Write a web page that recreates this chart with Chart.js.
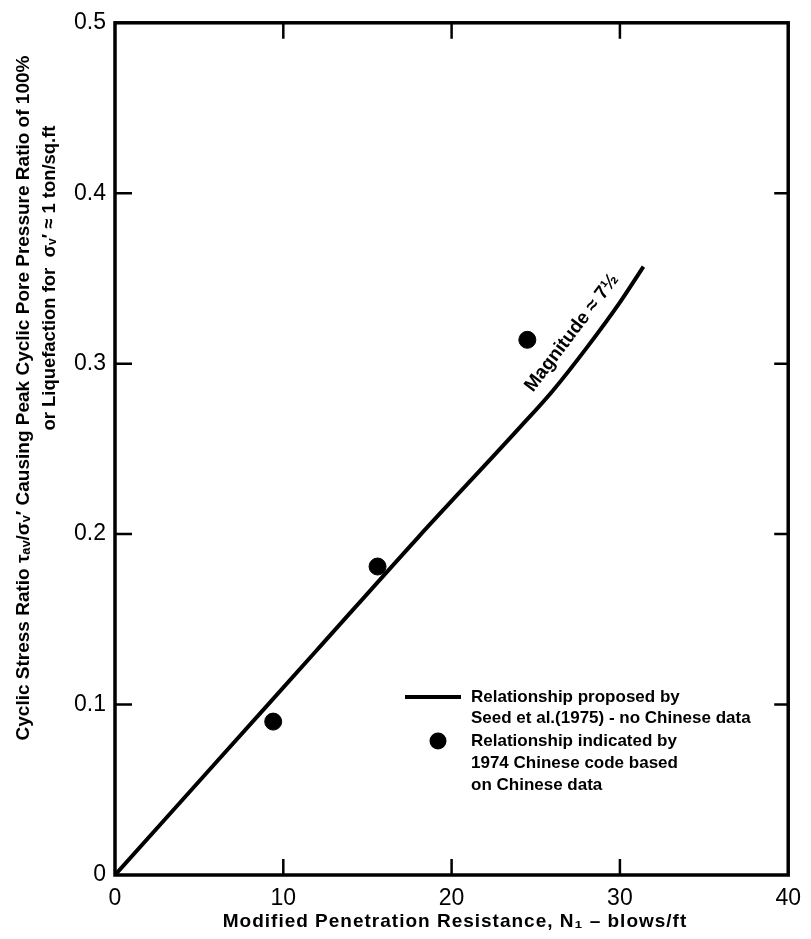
<!DOCTYPE html>
<html>
<head>
<meta charset="utf-8">
<script src="https://cdn.jsdelivr.net/npm/chart.js@4.4.1/dist/chart.umd.min.js"></script>
<style>
  html, body { margin: 0; padding: 0; background: #fff; }
  #wrap { width: 811px; height: 939px; position: relative; }
</style>
</head>
<body>
<div id="wrap"><canvas id="chart"></canvas></div>
<script>
// Seed et al. (1975) curve, M = 7 1/2
const curveN = [0, 6, 12, 18, 24, 26, 28, 30, 31.4];
const curveCSR = [0, 0.066, 0.132, 0.198, 0.262, 0.284, 0.309, 0.336, 0.357];
// 1974 Chinese code points
const chineseN = [9.4, 15.6, 24.5];
const chineseCSR = [0.09, 0.181, 0.314];

const xTicks = [0, 10, 20, 30, 40];
const yTicks = [0, 0.1, 0.2, 0.3, 0.4, 0.5];
const yTickLabels = ["0", "0.1", "0.2", "0.3", "0.4", "0.5"];

const xTitle = "Modified Penetration Resistance, N\u2081 \u2013 blows/ft";
const yTitle1 = "Cyclic Stress Ratio \u03c4\u2090\u1d65/\u03c3\u1d65\u2032 Causing Peak Cyclic Pore Pressure Ratio of 100%";
const yTitle2 = "or Liquefaction for  \u03c3\u1d65\u2032 \u2248 1 ton/sq.ft";
const curveLabel = "Magnitude \u2248 7\u00bd";
const legendLine = ["Relationship proposed by", "Seed et al.(1975) - no Chinese data"];
const legendDot = ["Relationship indicated by", "1974 Chinese code based", "on Chinese data"];

const FONT = "'Liberation Sans', Arial, sans-serif";

// frame, inward ticks, titles, legend, curve label
const decorPlugin = {
  id: "decor",
  afterDraw(chart) {
    const ctx = chart.ctx;
    const a = chart.chartArea;
    const xs = chart.scales.x;
    const ys = chart.scales.y;
    ctx.save();
    ctx.strokeStyle = "#000";
    ctx.fillStyle = "#000";

    // frame
    ctx.lineWidth = 3.5;
    ctx.strokeRect(a.left, a.top, a.right - a.left, a.bottom - a.top);

    // inward ticks
    ctx.lineWidth = 2.5;
    xTicks.slice(1, -1).forEach(v => {
      const px = xs.getPixelForValue(v);
      ctx.beginPath();
      ctx.moveTo(px, a.bottom); ctx.lineTo(px, a.bottom - 16);
      ctx.moveTo(px, a.top); ctx.lineTo(px, a.top + 16);
      ctx.stroke();
    });
    yTicks.slice(1, -1).forEach(v => {
      const py = ys.getPixelForValue(v);
      ctx.beginPath();
      ctx.moveTo(a.left, py); ctx.lineTo(a.left + 17, py);
      ctx.moveTo(a.right, py); ctx.lineTo(a.right - 14, py);
      ctx.stroke();
    });

    // x title
    ctx.textAlign = "center";
    ctx.textBaseline = "middle";
    ctx.font = "bold 19px " + FONT;
    ctx.letterSpacing = "1px";
    ctx.fillText(xTitle, 455, 922, 525);
    ctx.letterSpacing = "0px";

    // y title (two rotated lines)
    ctx.save();
    ctx.translate(24, 398);
    ctx.rotate(-Math.PI / 2);
    ctx.font = "bold 19px " + FONT;
    ctx.fillText(yTitle1, 0, 0, 775);
    ctx.restore();
    ctx.save();
    ctx.translate(50, 278);
    ctx.rotate(-Math.PI / 2);
    ctx.font = "bold 19px " + FONT;
    ctx.fillText(yTitle2, 0, 0, 305);
    ctx.restore();

    // label along the curve
    const p1x = xs.getPixelForValue(curveN[5]), p1y = ys.getPixelForValue(curveCSR[5]);
    const p2x = xs.getPixelForValue(curveN[7]), p2y = ys.getPixelForValue(curveCSR[7]);
    const ang = Math.atan2(p2y - p1y, p2x - p1x);
    ctx.save();
    ctx.translate(xs.getPixelForValue(27.15), ys.getPixelForValue(0.318));
    ctx.rotate(ang);
    ctx.font = "bold 19px " + FONT;
    ctx.fillText(curveLabel, 0, 0);
    ctx.restore();

    // legend
    ctx.textAlign = "left";
    ctx.font = "bold 17px " + FONT;
    ctx.lineWidth = 4;
    ctx.beginPath();
    ctx.moveTo(405, 697); ctx.lineTo(461, 697);
    ctx.stroke();
    legendLine.forEach((t, i) => ctx.fillText(t, 471, 697 + i * 21, 322));
    ctx.beginPath();
    ctx.arc(438, 741, 8.5, 0, Math.PI * 2);
    ctx.fill();
    legendDot.forEach((t, i) => ctx.fillText(t, 471, 741 + i * 22));

    ctx.restore();
  }
};

const ctx = document.getElementById("chart").getContext("2d");
new Chart(ctx, {
  type: "scatter",
  data: {
    datasets: [
      {
        label: "Relationship proposed by Seed et al.(1975)",
        data: curveN.map((n, i) => ({ x: n, y: curveCSR[i] })),
        showLine: true,
        borderColor: "#000",
        borderWidth: 4,
        pointRadius: 0,
        cubicInterpolationMode: "monotone",
      },
      {
        label: "Relationship indicated by 1974 Chinese code",
        data: chineseN.map((n, i) => ({ x: n, y: chineseCSR[i] })),
        backgroundColor: "#000",
        borderColor: "#000",
        pointRadius: 8.5,
        pointHoverRadius: 8.5,
      },
    ],
  },
  options: {
    responsive: true,
    maintainAspectRatio: false,
    animation: false,
    layout: { padding: { top: 17, right: 11, left: 0, bottom: 0 } },
    plugins: {
      legend: { display: false },
      tooltip: { enabled: false },
    },
    scales: {
      x: {
        type: "linear",
        min: 0,
        max: 40,
        afterBuildTicks: s => { s.ticks = xTicks.map(v => ({ value: v })); },
        afterFit: s => { s.height = 64; },
        grid: { display: false, drawTicks: false },
        border: { display: false },
        ticks: {
          color: "#000",
          padding: 10,
          font: { family: FONT, size: 23 },
          maxRotation: 0,
        },
      },
      y: {
        type: "linear",
        min: 0,
        max: 0.5,
        afterBuildTicks: s => { s.ticks = yTicks.map(v => ({ value: v })); },
        afterFit: s => { s.width = 115; },
        grid: { display: false, drawTicks: false },
        border: { display: false },
        ticks: {
          color: "#000",
          padding: 9,
          font: { family: FONT, size: 23 },
          callback: (v, i) => yTickLabels[i],
        },
      },
    },
  },
  plugins: [decorPlugin],
});
</script>
</body>
</html>
